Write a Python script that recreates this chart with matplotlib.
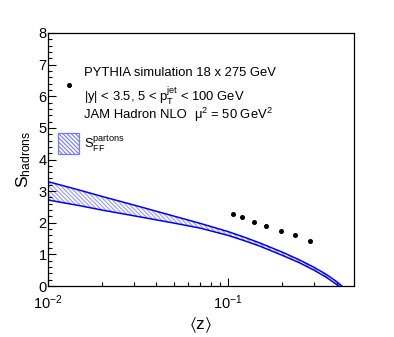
import matplotlib
matplotlib.use("Agg")
import matplotlib.pyplot as plt
from matplotlib.patches import Rectangle
from matplotlib.ticker import LogLocator, LogFormatterMathtext, NullFormatter, MultipleLocator

plt.rcParams['font.family'] = ['Liberation Sans', 'DejaVu Sans']
plt.rcParams['mathtext.default'] = 'regular'
plt.rcParams['hatch.linewidth'] = 0.8

# PYTHIA points
pythia_z = [0.107, 0.119, 0.139, 0.163, 0.197, 0.235, 0.286]
pythia_s = [2.28, 2.18, 2.03, 1.91, 1.75, 1.60, 1.42]

# JAM band (upper / lower edge)
band_z = [0.01, 0.015, 0.02, 0.03, 0.05, 0.07, 0.1, 0.125, 0.15, 0.2, 0.25, 0.3, 0.35, 0.4, 0.45]
band_hi = [3.30, 3.03, 2.83, 2.56, 2.21, 1.98, 1.72, 1.53, 1.36, 1.07, 0.82, 0.59, 0.37, 0.14, -0.10]
band_lo = [2.72, 2.54, 2.40, 2.22, 1.99, 1.83, 1.60, 1.42, 1.26, 0.97, 0.73, 0.50, 0.28, 0.05, -0.19]

fig = plt.figure(figsize=(3.94, 3.37), dpi=100)
ax = fig.add_axes([48/394, 51/337, 306/394, 253/337])

ax.fill_between(band_z, band_lo, band_hi, facecolor='none', edgecolor='#9999ff',
                hatch='\\' * 8, linewidth=0)
ax.plot(band_z, band_hi, color='#0000ff', lw=1.1)
ax.plot(band_z, band_lo, color='#0000ff', lw=1.1)
ax.plot(pythia_z, pythia_s, 'o', color='black', ms=2.6, ls='none')

ax.set_xscale('log')
ax.set_xlim(0.01, 0.5)
ax.set_ylim(0, 8)
ax.xaxis.set_major_locator(LogLocator(base=10))
ax.xaxis.set_major_formatter(LogFormatterMathtext())
ax.xaxis.set_minor_locator(LogLocator(base=10, subs=range(2, 10)))
ax.xaxis.set_minor_formatter(NullFormatter())
ax.yaxis.set_major_locator(MultipleLocator(1))
ax.yaxis.set_minor_locator(MultipleLocator(0.2))
ax.tick_params(which='both', direction='in', top=False, right=False, labelsize=10.5)
ax.tick_params(which='major', length=5.5, width=0.8)
ax.tick_params(which='minor', length=3, width=0.8)
ax.tick_params(axis='x', pad=5)
ax.tick_params(axis='y', pad=1)
for s in ax.spines.values():
    s.set_linewidth(0.9)

ax.set_ylabel('$S_{hadrons}$', fontsize=12.5, labelpad=4)
ax.set_xlabel(r'$\langle z\rangle$', fontsize=12.5, labelpad=3)

# legend
fs = 9.4
fig.text(84/394, 1-73/337, 'PYTHIA simulation 18 x 275 GeV', fontsize=fs, va='center')
fig.text(84/394, 1-96/337, '|y| < 3.5, 5 < $p_{T}^{jet}$ < 100 GeV', fontsize=fs, va='center')
fig.text(84/394, 1-115/337, 'JAM Hadron NLO', fontsize=fs, va='center')
fig.text(194/394, 1-115/337, r'$\mu^{2}$ = 50 GeV$^{2}$', fontsize=fs, va='center')
fig.text(84/394, 1-144/337, '$S_{FF}^{partons}$', fontsize=fs, va='center')
fig.add_artist(plt.Line2D([69/394], [1-85/337], marker='o', color='black', ms=2.6,
                          transform=fig.transFigure))
fig.add_artist(Rectangle((58/394, 1-154/337), 21/394, 21/337, transform=fig.transFigure,
                         facecolor='none', edgecolor='#7777ff', hatch='\\' * 8, lw=0.9))

fig.savefig('out.png', dpi=100)
